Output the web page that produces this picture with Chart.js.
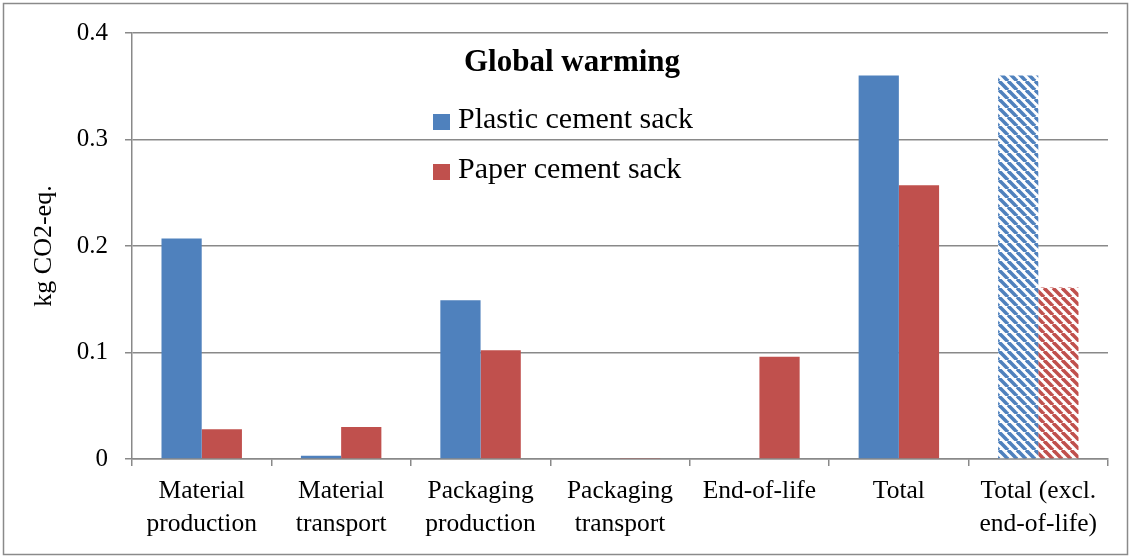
<!DOCTYPE html>
<html>
<head>
<meta charset="utf-8">
<script src="https://cdn.jsdelivr.net/npm/chart.js@4/dist/chart.umd.min.js"></script>
<style>
  html, body { margin: 0; padding: 0; background: #fff; }
  #wrap { position: relative; width: 1132px; height: 560px; }
</style>
</head>
<body>
<div id="wrap"><canvas id="gwChart" width="1132" height="560"></canvas></div>
<script>
const categories = [
  ['Material', 'production'],
  ['Material', 'transport'],
  ['Packaging', 'production'],
  ['Packaging', 'transport'],
  'End-of-life',
  'Total',
  ['Total (excl.', 'end-of-life)']
];
const plasticValues = [0.207, 0.003, 0.149, 0, 0, 0.360, 0.360];
const paperValues = [0.028, 0.030, 0.102, 0.001, 0.096, 0.257, 0.161];
const yTicks = [0, 0.1, 0.2, 0.3, 0.4];

const chartTitle = 'Global warming';
const yTitle = 'kg CO2-eq.';
const seriesNames = ['Plastic cement sack', 'Paper cement sack'];
const hatchedIndex = 6;

const BLUE = '#4F81BD';
const RED = '#C0504D';
const GRID = '#898989';
const FONT = "'Liberation Serif', 'Times New Roman', serif";

const canvas = document.getElementById('gwChart');
const ctx = canvas.getContext('2d');

function stripes(color) {
  const s = 9;
  const c = document.createElement('canvas');
  c.width = s; c.height = s;
  const g = c.getContext('2d');
  g.fillStyle = '#fff';
  g.fillRect(0, 0, s, s);
  g.strokeStyle = color;
  g.lineWidth = 3.6;
  for (const k of [-s, 0, s]) {
    g.beginPath();
    g.moveTo(k, 0);
    g.lineTo(k + s, s);
    g.stroke();
  }
  return ctx.createPattern(c, 'repeat');
}

const bluePattern = stripes(BLUE);
const redPattern = stripes(RED);

// title + legend sit inside the plot, and a thin frame goes round everything
const insideLegend = {
  id: 'insideLegend',
  beforeDraw(chart) {
    const c = chart.ctx;
    c.save();
    c.strokeStyle = '#8a8a8a';
    c.lineWidth = 1.5;
    c.strokeRect(3.5, 3.5, 1124, 551);
    c.restore();
  },
  afterDraw(chart) {
    const c = chart.ctx;
    c.save();
    c.fillStyle = '#000';
    c.textAlign = 'center';
    c.textBaseline = 'alphabetic';
    c.font = 'bold 31px ' + FONT;
    c.fillText(chartTitle, 572, 71);

    c.font = '30px ' + FONT;
    c.textAlign = 'left';
    const rows = [128, 178];
    chart.data.datasets.forEach((ds, i) => {
      c.fillStyle = ds.legendColor;
      c.fillRect(433, rows[i] - 14, 17, 16);
      c.fillStyle = '#000';
      c.fillText(ds.label, 458, rows[i]);
    });
    c.restore();
  }
};

new Chart(ctx, {
  type: 'bar',
  data: {
    labels: categories,
    datasets: [
      {
        label: seriesNames[0],
        data: plasticValues,
        legendColor: BLUE,
        backgroundColor: c => c.dataIndex === hatchedIndex ? bluePattern : BLUE,
        barPercentage: 1,
        categoryPercentage: 0.577
      },
      {
        label: seriesNames[1],
        data: paperValues,
        legendColor: RED,
        backgroundColor: c => c.dataIndex === hatchedIndex ? redPattern : RED,
        barPercentage: 1,
        categoryPercentage: 0.577
      }
    ]
  },
  options: {
    responsive: false,
    animation: false,
    layout: { padding: { top: 33, right: 24, left: 0, bottom: 0 } },
    plugins: {
      legend: { display: false },
      title: { display: false },
      tooltip: { enabled: false }
    },
    scales: {
      x: {
        afterFit: s => { s.height = 101; },
        grid: {
          drawOnChartArea: false,
          drawTicks: true,
          tickLength: 7,
          color: GRID,
          lineWidth: 1.5,
          offset: true
        },
        border: { color: GRID, width: 1.5 },
        ticks: {
          color: '#000',
          padding: 9,
          maxRotation: 0,
          autoSkip: false,
          font: { family: FONT, size: 25.5, lineHeight: 1.3 }
        }
      },
      y: {
        min: 0,
        max: 0.4,
        afterFit: s => { s.width = 132; },
        afterBuildTicks: s => { s.ticks = yTicks.map(v => ({ value: v })); },
        grid: {
          drawTicks: true,
          tickLength: 7,
          color: GRID,
          lineWidth: 1.5
        },
        border: { color: GRID, width: 1.5 },
        ticks: {
          color: '#000',
          padding: 17,
          font: { family: FONT, size: 25 },
          callback: v => String(v)
        },
        title: {
          display: true,
          text: yTitle,
          color: '#000',
          padding: { top: 29, bottom: 0 },
          font: { family: FONT, size: 26 }
        }
      }
    }
  },
  plugins: [insideLegend]
});
</script>
</body>
</html>
